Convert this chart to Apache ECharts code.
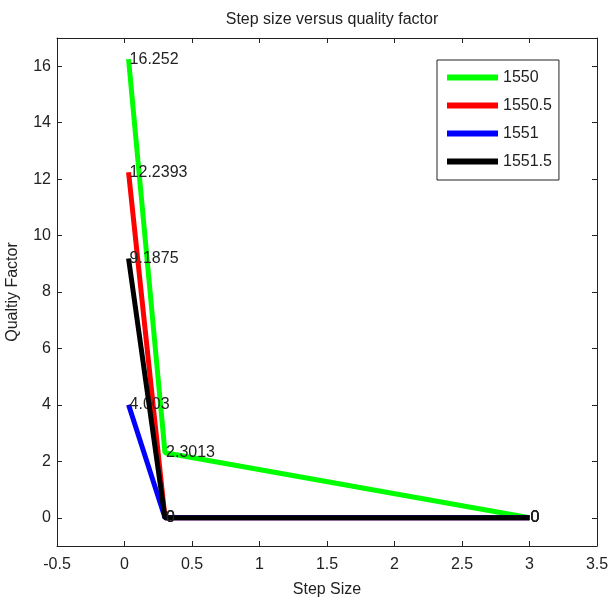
<!DOCTYPE html>
<html>
<head>
<meta charset="utf-8">
<script src="https://cdn.jsdelivr.net/npm/echarts@6/dist/echarts.min.js"></script>
<style>html,body{margin:0;padding:0;background:#fff}#c{width:609px;height:601px}</style>
</head>
<body>
<div id="c"></div>
<script>
const stepSizes = [0.03, 0.3, 3];
const seriesNames = ['1550', '1550.5', '1551', '1551.5'];
const q1550 = [16.252, 2.3013, 0];
const q1550_5 = [12.2393, 0, 0];
const q1551 = [4.003, 0, 0];
const q1551_5 = [9.1875, 0, 0];
const colors = ['#00ff00', '#ff0000', '#0000ff', '#000000'];
const xTicks = [-0.5, 0, 0.5, 1, 1.5, 2, 2.5, 3, 3.5];
const yTicks = [0, 2, 4, 6, 8, 10, 12, 14, 16];

const FONT = '"Liberation Sans", Arial, sans-serif';
const TXT = '#222';
const FS = 16;
const allVals = [q1550, q1550_5, q1551, q1551_5];

const chart = echarts.init(document.getElementById('c'), null, {renderer: 'canvas'});
const axLine = {show: true, onZero: false, lineStyle: {color: '#222', width: 1}};
const xTick = {show: true, inside: true, length: 5, lineStyle: {color: '#222'}, customValues: xTicks};
const yTick = {show: true, inside: true, length: 5, lineStyle: {color: '#222'}, customValues: yTicks};
const option = {
  animation: false,
  backgroundColor: '#fff',
  title: {
    text: 'Step size versus quality factor',
    left: 327, textAlign: 'center', top: 7,
    textStyle: {fontFamily: FONT, fontSize: FS, fontWeight: 'normal', color: TXT}
  },
  grid: {left: 57, right: 12, top: 38, bottom: 55, containLabel: false, outerBoundsMode: 'none'},
  legend: {
    orient: 'vertical',
    left: 437, top: 60,
    padding: [7, 7, 8, 10],
    borderColor: '#222', borderWidth: 1,
    backgroundColor: '#fff',
    itemWidth: 51, itemHeight: 6,
    itemGap: 7,
    icon: 'rect',
    textStyle: {fontFamily: FONT, fontSize: FS, color: TXT, height: 21, lineHeight: 21},
    data: seriesNames
  },
  xAxis: [{
    type: 'value', min: -0.5, max: 3.5, interval: 0.5,
    name: 'Step Size', nameLocation: 'middle', nameGap: 36,
    nameTextStyle: {fontFamily: FONT, fontSize: FS, color: TXT},
    axisLine: axLine, axisTick: xTick, splitLine: {show: false},
    axisLabel: {fontFamily: FONT, fontSize: FS, color: TXT, margin: 11, customValues: xTicks}
  }, {
    type: 'value', min: -0.5, max: 3.5, interval: 0.5, position: 'top',
    axisLine: axLine, axisTick: xTick, axisLabel: {show: false}, splitLine: {show: false}
  }],
  yAxis: [{
    type: 'value', min: -1, max: 17, interval: 1,
    name: 'Qualtiy Factor', nameLocation: 'middle', nameGap: 36,
    nameTextStyle: {fontFamily: FONT, fontSize: FS, color: TXT},
    axisLine: axLine, axisTick: yTick, splitLine: {show: false},
    axisLabel: {fontFamily: FONT, fontSize: FS, color: TXT, margin: 6, customValues: yTicks}
  }, {
    type: 'value', min: -1, max: 17, interval: 1, position: 'right',
    axisLine: axLine, axisTick: yTick, axisLabel: {show: false}, splitLine: {show: false}
  }],
  series: seriesNames.map((n, i) => ({
    name: n, type: 'line',
    data: stepSizes.map((x, j) => [x, allVals[i][j]]),
    color: colors[i],
    lineStyle: {width: 5, color: colors[i]},
    itemStyle: {color: colors[i]},
    symbol: 'circle', symbolSize: 0.1, showSymbol: true,
    label: {show: true, position: 'right', distance: 1,
      fontFamily: FONT, fontSize: FS, color: TXT,
      formatter: p => String(p.value[1])},
    z: 2 + i
  }))
};
chart.setOption(option);
</script>
</body>
</html>
